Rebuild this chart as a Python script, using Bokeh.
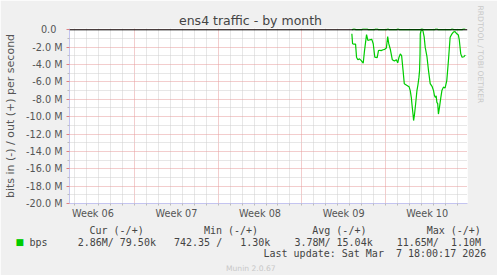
import math
from bokeh.plotting import figure
from bokeh.models import Range1d, FixedTicker, Span, Title
from bokeh.embed import file_html
from bokeh.resources import INLINE

# ---------------- data (x = days since Mon 2 Feb 2026, y = Mbit/s) ----------------
in_days = [25.19, 25.25, 25.36, 25.50, 25.58, 25.69, 25.83, 25.98, 26.14, 26.25,
           26.42, 26.53, 26.69, 26.86, 26.98, 27.11, 27.31, 27.42, 27.53, 27.64,
           27.81, 27.94, 28.08, 28.19, 28.28, 28.42, 28.58, 28.75, 28.92, 29.03,
           29.14, 29.25, 29.36, 29.48, 29.53, 29.58, 29.81, 29.98, 30.08, 30.17,
           30.22, 30.31, 30.36, 30.44, 30.53, 30.64, 30.73, 30.81, 30.86, 30.90,
           30.92, 31.00, 31.14, 31.25, 31.33, 31.48, 31.61, 31.75, 31.92, 32.03,
           32.11, 32.19, 32.25, 32.31, 32.38, 32.44, 32.53, 32.64, 32.73, 32.86,
           33.00, 33.14, 33.28, 33.42, 33.56, 33.69, 33.83, 33.98, 34.11, 34.19,
           34.31, 34.42, 34.58, 34.69]
in_mbps = [-0.46, -1.60, -1.65, -1.65, -3.15, -3.45, -3.35, -3.55, -3.85, -2.40,
           -0.55, -1.23, -1.15, -1.10, -1.60, -3.15, -3.20, -2.40, -2.35, -2.40,
           -2.30, -2.25, -2.10, -0.77, -1.60, -2.30, -3.46, -3.60, -3.45, -3.80,
           -3.15, -2.77, -3.00, -4.70, -5.45, -6.20, -6.40, -6.55, -7.00, -7.80,
           -8.55, -9.70, -10.45, -9.70, -8.55, -7.00, -6.30, -5.45, -4.70, -2.80,
           -0.46, 0.00, -0.10, -0.85, -2.00, -3.10, -4.70, -6.20, -6.55, -7.00,
           -7.60, -7.80, -7.60, -8.35, -8.50, -9.70, -8.90, -7.80, -7.00, -6.60,
           -6.70, -5.85, -3.50, -0.85, -0.50, -0.27, -0.20, -0.46, -0.60, -1.20,
           -2.77, -3.15, -3.10, -2.90]

out_days = [25.19, 25.25, 25.30, 25.45, 25.50, 26.05, 26.10, 26.50, 26.55,
            27.10, 27.15, 27.35, 27.40, 28.10, 28.15, 28.25, 28.30, 28.95, 29.00,
            29.10, 29.15, 30.95, 31.00, 31.12, 31.17, 32.15, 32.20, 32.35, 32.40,
            33.50, 33.55, 33.65, 33.70, 34.45, 34.50, 34.69]
out_mbps = [0.01, 0.01, 0.10, 0.10, 0.01, 0.01, 0.10, 0.10, 0.01,
            0.01, 0.10, 0.10, 0.01, 0.01, 0.10, 0.10, 0.01, 0.01, 0.10,
            0.10, 0.01, 0.01, 0.10, 0.10, 0.01, 0.01, 0.10, 0.10, 0.01,
            0.01, 0.10, 0.10, 0.01, 0.01, 0.10, 0.10]

week_starts = [7, 14, 21, 28]
day_marks = [2, 3, 4, 5, 6, 8, 9, 10, 11, 12, 13, 15, 16, 17, 18, 19, 20,
             22, 23, 24, 25, 26, 27, 29, 30, 31, 32, 33, 34]
week_mids = [3.5, 10.5, 17.5, 24.5, 31.5]
week_labels = ["Week 06", "Week 07", "Week 08", "Week 09", "Week 10"]

y_major = [-20, -18, -16, -14, -12, -10, -8, -6, -4, -2, 0]
y_minor = [-19, -17, -15, -13, -11, -9, -7, -5, -3, -1]
y_labels = ["-20.0 M", "-18.0 M", "-16.0 M", "-14.0 M", "-12.0 M", "-10.0 M",
            "-8.0 M", "-6.0 M", "-4.0 M", "-2.0 M", "0.0\u00a0\u00a0"]

series_name = "bps"
legend_heads = ["Cur (-/+)", "Min (-/+)", "Avg (-/+)", "Max (-/+)"]
legend_stats = ["2.86M/ 79.50k", "742.35 /   1.30k", "3.78M/ 15.04k", "11.65M/  1.10M"]
last_update = "Last update: Sat Mar  7 18:00:17 2026"
footer = "Munin 2.0.67"
watermark = "RRDTOOL / TOBI OETIKER"
chart_title = "ens4 traffic - by month"

# ---------------- layout ----------------
W, H = 497, 275
FL, FR, FT, FB = 67, 467, 28, 203
X0 = 1.5 + 0.5 / 12
X1 = X0 + 400 / 12
Y0, Y1 = -20.0, 0.15

GREEN = "#00CC00"
AXIS_C = "#C4C4F0"
RED_G = "#E79B9B"
GRAY_G = "#CFCFCF"
TXT = "#444444"
LBL = "#555555"
BG = "#F0F0F0"
SANS = "DejaVu Sans"
MONO = "DejaVu Sans Mono"
NB = "\u00a0"


def mono_row(parts, cols):
    """Place text parts at fixed character columns (non-breaking spaces)."""
    s = ""
    for part, c in zip(parts, cols):
        s += NB * max(1, c - len(s)) if s else NB * c
        s += part.replace(" ", NB)
    return s


p = figure(width=W, height=H, output_backend="svg", toolbar_location=None,
           x_range=Range1d(X0, X1), y_range=Range1d(Y0, Y1),
           min_border_left=FL, min_border_right=W - FR,
           min_border_top=FT, min_border_bottom=H - FB)
p.background_fill_color = "white"
p.border_fill_color = BG
p.outline_line_color = None

# title (left aligned so that it sits centred on the whole canvas)
p.title.text = chart_title
p.title.align = "left"
p.title.offset = 176.5 - FL
p.title.text_font = SANS
p.title.text_font_size = "12.5px"
p.title.text_font_style = "normal"
p.title.text_color = TXT
p.title.standoff = 2

# grids
for g, maj, mnr in ((p.xgrid, week_starts, day_marks), (p.ygrid, y_major, y_minor)):
    g.ticker = FixedTicker(ticks=maj, minor_ticks=mnr)
    g.grid_line_color = RED_G
    g.grid_line_dash = "1 1"
    g.minor_grid_line_color = GRAY_G
    g.minor_grid_line_dash = "1 1"

# y axis
ya = p.yaxis[0]
ya.ticker = FixedTicker(ticks=y_major, minor_ticks=y_minor)
ya.major_label_overrides = {v: s for v, s in zip(y_major, y_labels)}
ya.axis_line_color = AXIS_C
ya.major_tick_line_color = "#E08080"
ya.minor_tick_line_color = "#BBBBBB"
ya.major_tick_out = 3
ya.major_tick_in = 0
ya.minor_tick_out = 2
ya.minor_tick_in = 0
ya.major_label_standoff = 4
ya.major_label_text_font = SANS
ya.major_label_text_font_size = "9.7px"
ya.major_label_text_color = LBL
ya.axis_label = "bits in (-) / out (+) per second"
ya.axis_label_text_font = SANS
ya.axis_label_text_font_size = "11px"
ya.axis_label_text_font_style = "normal"
ya.axis_label_text_color = LBL
ya.axis_label_standoff = 6

# x axis: week labels at mid-week, daily minor ticks
xa = p.xaxis[0]
xa.ticker = FixedTicker(ticks=week_mids, minor_ticks=sorted(day_marks + week_starts))
xa.major_label_overrides = {v: s for v, s in zip(week_mids, week_labels)}
xa.axis_line_color = AXIS_C
xa.major_tick_line_color = None
xa.major_tick_out = 2
xa.major_tick_in = 0
xa.minor_tick_line_color = "#BBBBBB"
xa.minor_tick_out = 2
xa.minor_tick_in = 0
xa.major_label_standoff = 2
xa.major_label_text_font = SANS
xa.major_label_text_font_size = "9.7px"
xa.major_label_text_color = LBL

# data lines
p.line(out_days, out_mbps, line_color=GREEN, line_width=1.2)
p.line(in_days, in_mbps, line_color=GREEN, line_width=1.2)
p.add_layout(Span(location=0, dimension="width", line_color="black", line_width=1))

# watermark on the right side
p.add_layout(Title(text=watermark, align="left", text_font=SANS, text_font_size="7.6px",
                   text_font_style="normal", text_color="#C8C8C8", standoff=16,
                   offset=-23), "right")

# ---------------- legend block below the x axis ----------------
head_row = mono_row(legend_heads, [0, 19, 37, 56])
stat_row = mono_row([series_name] + legend_stats, [0, 8, 24, 44, 61])

rows = (
    # text, left x (px), standoff, font, size, colour
    (head_row, 87, 3, MONO, "10px", TXT),
    ("\u25A0", 13, -19.6, SANS, "9px", GREEN),   # zero-height row: colour swatch
    (stat_row, 27, -5, MONO, "10px", TXT),
    (last_update.replace(" ", NB), 261, 1, MONO, "10px", TXT),
    (footer, 223.5, 4, SANS, "7.6px", "#C8C8C8"),
)
for txt, x_px, so, font, size, col in rows:
    p.add_layout(Title(text=txt, align="left", offset=x_px - FL, standoff=so,
                       text_font=font, text_font_size=size,
                       text_font_style="normal", text_color=col), "below")

open("out.html", "w").write(file_html(p, INLINE))
